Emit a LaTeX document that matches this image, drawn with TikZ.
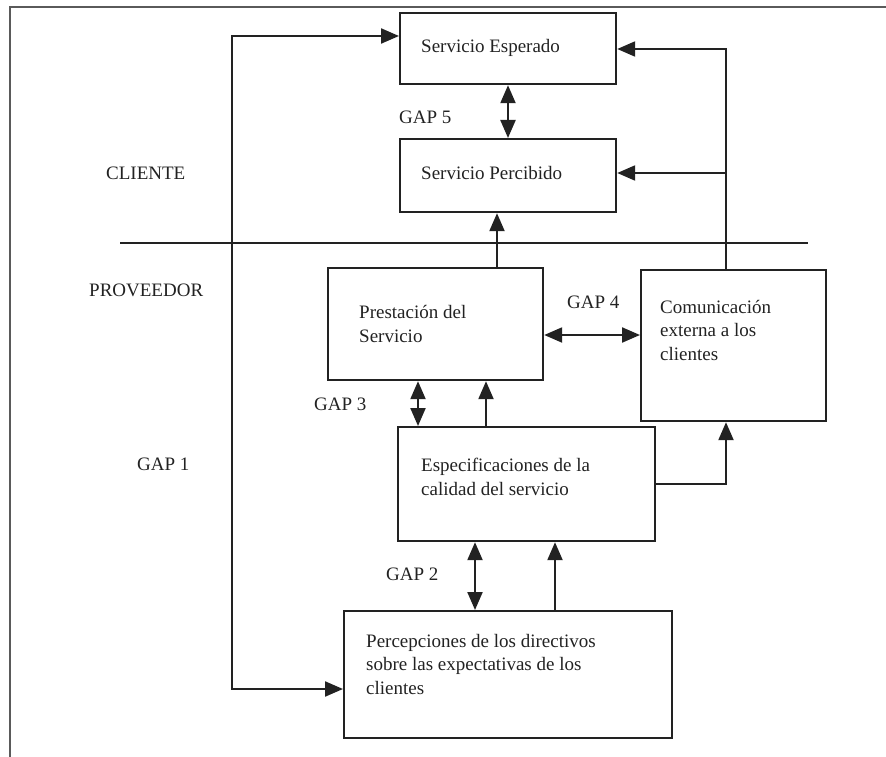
\documentclass[tikz,border=0pt]{standalone}
\usepackage{fontspec}
\setmainfont{Liberation Serif}
\usetikzlibrary{arrows.meta}
\definecolor{ink}{HTML}{222222}
\definecolor{frame}{HTML}{5A5A5A}
\tikzset{
  box/.style={draw=ink, line width=2.2pt, rectangle, inner sep=0pt, anchor=north west},
  txt/.style={anchor=west, inner sep=0pt, align=left, text=ink, font=\fontsize{19}{23.5}\selectfont},
  conn/.style={draw=ink, line width=2.2pt},
  arr/.style={conn, -{Triangle[length=18pt,width=15pt]}},
  dbl/.style={conn, {Triangle[length=18pt,width=15pt]}-{Triangle[length=18pt,width=15pt]}},
}
\begin{document}
\begin{tikzpicture}[x=1pt,y=-1pt]
\useasboundingbox (0,0) rectangle (886,757);
% frame
\coordinate (F0) at (10,757);
\coordinate (F1) at (10,7);
\coordinate (F2) at (886,7);
\draw[frame, line width=2pt] (F0) -- (F1) -- (F2);
% boxes
\node[box, minimum width=216pt, minimum height=71pt] (esp) at (399,12) {};
\node[box, minimum width=216pt, minimum height=73pt] (perc) at (399,138) {};
\node[box, minimum width=215pt, minimum height=112pt] (pres) at (327,267) {};
\node[box, minimum width=185pt, minimum height=151pt] (com) at (640,269) {};
\node[box, minimum width=257pt, minimum height=114pt] (spec) at (397,426) {};
\node[box, minimum width=328pt, minimum height=127pt] (dir) at (343,610) {};
% box texts
\node[txt] (tesp) at (421,48) {Servicio Esperado};
\node[txt] (tperc) at (421,173) {Servicio Percibido};
\node[txt] (tpres) at (359,324) {Prestación del\\Servicio};
\node[txt] (tcom) at (660,330) {Comunicación\\externa a los\\clientes};
\node[txt] (tspec) at (421,477) {Especificaciones de la\\calidad del servicio};
\node[txt] (tdir) at (366,664) {Percepciones de los directivos\\sobre las expectativas de los\\clientes};
% side labels
\node[txt] (cli) at (106,173) {CLIENTE};
\node[txt] (prov) at (89,290) {PROVEEDOR};
\node[txt] (g5) at (399,117) {GAP 5};
\node[txt] (g4) at (567,302) {GAP 4};
\node[txt] (g3) at (314,404) {GAP 3};
\node[txt] (g1) at (137,464) {GAP 1};
\node[txt] (g2) at (386,574) {GAP 2};
% divider
\coordinate (D0) at (120,243);
\coordinate (D1) at (808,243);
\draw[conn, line width=1.8pt] (D0) -- (D1);
% left loop (GAP 1)
\coordinate (L1) at (232,36);
\coordinate (L2) at (232,689);
\draw[dbl] (esp.west |- L1) -- (L1) -- (L2) -- (dir.west |- L2);
% right loop from comunicacion
\coordinate (R1) at (726,49);
\coordinate (R2) at (726,173);
\draw[arr] (com.north -| R1) -- (R1) -- (esp.east |- R1);
\draw[arr] (R2) -- (perc.east |- R2);
% GAP 5
\coordinate (X5) at (508,0);
\draw[dbl] (esp.south -| X5) -- (perc.north -| X5);
% prestacion -> percibido
\coordinate (Xp) at (497,0);
\draw[arr] (pres.north -| Xp) -- (perc.south -| Xp);
% GAP 4
\coordinate (Y4) at (0,335);
\draw[dbl] (pres.east |- Y4) -- (com.west |- Y4);
% GAP 3
\coordinate (X3) at (418,0);
\draw[dbl] (pres.south -| X3) -- (spec.north -| X3);
\coordinate (Xs) at (486,0);
\draw[arr] (spec.north -| Xs) -- (pres.south -| Xs);
% spec -> comunicacion
\coordinate (S1) at (726,484);
\draw[arr] (spec.east |- S1) -- (S1) -- (com.south -| S1);
% GAP 2
\coordinate (X2) at (475,0);
\draw[dbl] (spec.south -| X2) -- (dir.north -| X2);
\coordinate (Xd) at (555,0);
\draw[arr] (dir.north -| Xd) -- (spec.south -| Xd);
\end{tikzpicture}
\end{document}
